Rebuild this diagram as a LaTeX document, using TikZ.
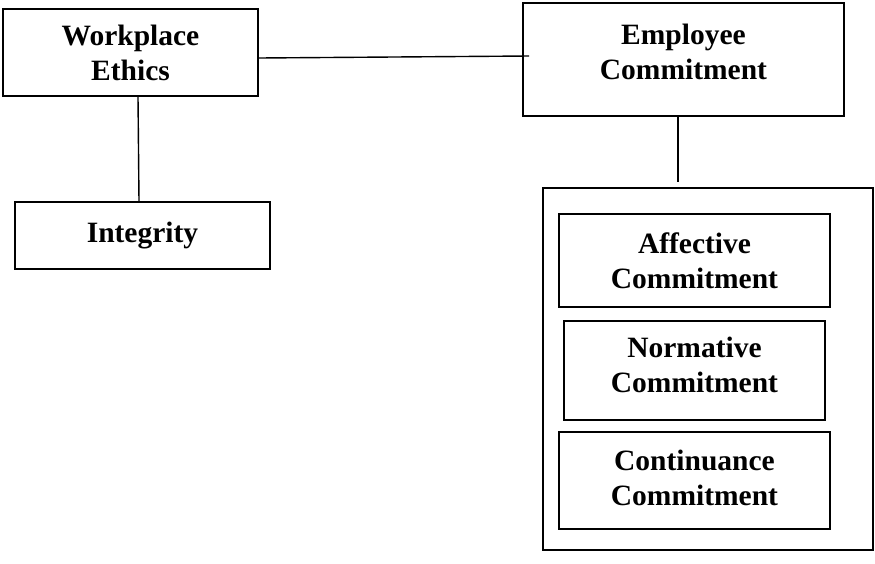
\documentclass[tikz,border=0pt]{standalone}
\usepackage{fontspec}
\setmainfont{Liberation Serif}
\usepackage{tikz}

\tikzset{
  box/.style={shape=rectangle, draw=black, line width=1.6pt, align=center,
    font=\fontsize{29.5}{35}\selectfont\bfseries, inner sep=0pt},
  link/.style={-, line width=1.4pt, black}
}

\begin{document}
\begin{tikzpicture}[x=1pt,y=-1pt]
			\useasboundingbox (0,0) rectangle (875,563);
			\node[box, minimum width=255, minimum height=87] (we) at (130.5,52.5) {Workplace\\Ethics};
			\node[box, minimum width=321, minimum height=113, text depth=15pt] (ec) at (683.5,59.5) {Employee\\Commitment};
			\node[box, minimum width=255, minimum height=67] (ig) at (142.5,235.5) {Integrity};
			\node[box, minimum width=330, minimum height=362] (eo) at (708,369) {};
			\node[box, minimum width=271, minimum height=93] (ac) at (694.5,260.5) {Affective\\Commitment};
			\node[box, minimum width=261, minimum height=99, text depth=12pt] (nc) at (694.5,370.5) {Normative\\Commitment};
			\node[box, minimum width=271, minimum height=97, text depth=6pt] (cc) at (694.5,480.5) {Continuance\\Commitment};
			\coordinate (gap) at (678,182);% end short of the outer box

			\path [link] ([yshift=-5.5pt]we.east) edge ([xshift=7pt,yshift=3.5pt]ec.west);
			\path [link] ([xshift=7.5pt]we.south) edge ([xshift=-3.5pt]ig.north);
			\path [link] ([xshift=-5.5pt]ec.south) edge (gap);
		\end{tikzpicture}
\end{document}
